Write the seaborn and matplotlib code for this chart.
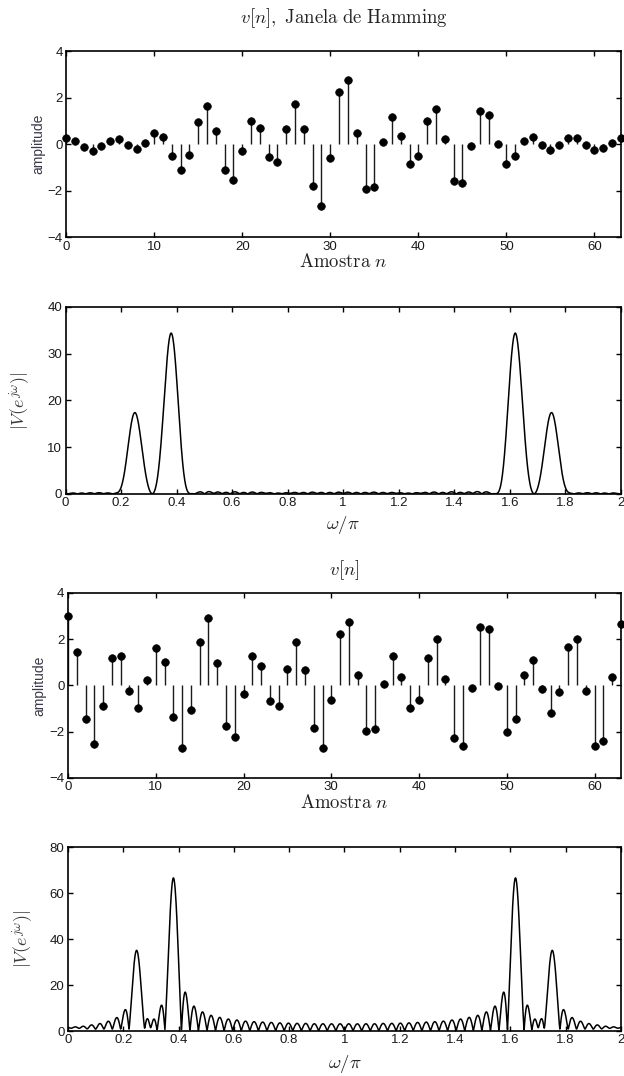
import numpy as np
import matplotlib
matplotlib.use("Agg")
import matplotlib.pyplot as plt
import seaborn as sns

# Samples, n = 0..63
n = np.arange(64)

# v[n] with Hamming window
v_hamming = [0.24, 0.11, -0.14, -0.29, -0.10, 0.14, 0.21, -0.04, -0.22, 0.06,
             0.47, 0.31, -0.52, -1.12, -0.49, 0.96, 1.63, 0.57, -1.13, -1.56,
             -0.29, 1.01, 0.68, -0.57, -0.76, 0.64, 1.73, 0.64, -1.82, -2.67,
             -0.62, 2.24, 2.76, 0.47, -1.92, -1.84, 0.07, 1.17, 0.33, -0.86,
             -0.52, 0.98, 1.51, 0.21, -1.57, -1.69, -0.07, 1.40, 1.24, -0.02,
             -0.84, -0.53, 0.14, 0.31, -0.03, -0.27, -0.04, 0.27, 0.27, -0.03,
             -0.27, -0.19, 0.04, 0.26]

# v[n] without window
v_plain = [3.00, 1.44, -1.47, -2.54, -0.89, 1.18, 1.27, -0.26, -0.98, 0.22,
           1.62, 1.00, -1.37, -2.70, -1.08, 1.88, 2.93, 0.97, -1.76, -2.25,
           -0.39, 1.28, 0.85, -0.66, -0.87, 0.71, 1.86, 0.65, -1.85, -2.71,
           -0.62, 2.24, 2.74, 0.46, -1.95, -1.90, 0.07, 1.26, 0.36, -0.98,
           -0.62, 1.20, 1.99, 0.26, -2.28, -2.61, -0.12, 2.53, 2.45, -0.03,
           -2.00, -1.44, 0.46, 1.11, -0.14, -1.20, -0.29, 1.66, 1.99, -0.22,
           -2.63, -2.41, 0.36, 2.67]

stem_yticks = [-4, -2, 0, 2, 4]
stem_xticks = [0, 10, 20, 30, 40, 50, 60]
freq_xticks = [0, 0.2, 0.4, 0.6, 0.8, 1, 1.2, 1.4, 1.6, 1.8, 2]
freq_xlabels = ["0", "0.2", "0.4", "0.6", "0.8", "1", "1.2", "1.4", "1.6", "1.8", "2"]

sns.set_theme(style="ticks")
plt.rcParams["font.family"] = ["Liberation Sans", "DejaVu Sans"]
plt.rcParams["mathtext.fontset"] = "cm"
plt.rcParams["axes.unicode_minus"] = True

TXT = "#222222"
NFFT = 2048


def spectrum(v):
    V = np.abs(np.fft.fft(np.asarray(v), NFFT))
    w = np.arange(NFFT) * 2.0 / NFFT
    return w, V


def style_axes(ax):
    for s in ax.spines.values():
        s.set_visible(True)
        s.set_color("black")
        s.set_linewidth(1.2)
    ax.tick_params(direction="in", length=3.5, width=1.0, top=True, right=True,
                   labelsize=9.5, pad=2.5, colors="black", labelcolor="#1a1a1a")


def stem_panel(ax, v, title, ylab_x, title_pad):
    ax.vlines(n, 0, v, color="#1a1a1a", linewidth=1.0)
    sns.scatterplot(x=n, y=v, ax=ax, color="black", s=30, edgecolor="black",
                    linewidth=0.5, zorder=3, clip_on=False)
    ax.set_xlim(0, 63)
    ax.set_ylim(-4, 4)
    ax.set_xticks(stem_xticks)
    ax.set_yticks(stem_yticks)
    ax.set_xlabel(r"$\mathrm{Amostra}\ n$", fontsize=13.5, color=TXT)
    ax.xaxis.set_label_coords(0.5, -0.085)
    ax.set_ylabel("amplitude", fontsize=10, color="#3a3a4a")
    ax.yaxis.set_label_coords(ylab_x, 0.5)
    ax.set_title(title, fontsize=13.5, color=TXT, pad=title_pad)
    style_axes(ax)


def freq_panel(ax, v, ymax, yticks, xlab_y):
    w, V = spectrum(v)
    sns.lineplot(x=w, y=V, ax=ax, color="black", linewidth=1.1)
    ax.set_xlim(0, 2)
    ax.set_ylim(0, ymax)
    ax.set_xticks(freq_xticks)
    ax.set_xticklabels(freq_xlabels)
    ax.set_yticks(yticks)
    ax.set_xlabel(r"$\omega/\pi$", fontsize=13.5, color=TXT)
    ax.xaxis.set_label_coords(0.5, xlab_y)
    ax.set_ylabel(r"$|V(e^{j\omega})|$", fontsize=13, color="#3a3a3a")
    ax.yaxis.set_label_coords(-0.058, 0.5)
    style_axes(ax)


fig = plt.figure(figsize=(6.24, 10.76), dpi=100)
ax1 = fig.add_axes([0.106, 0.7797, 0.889, 0.1729])
ax2 = fig.add_axes([0.105, 0.5409, 0.890, 0.1738])
ax3 = fig.add_axes([0.109, 0.2770, 0.886, 0.1719])
ax4 = fig.add_axes([0.109, 0.0418, 0.886, 0.1710])

stem_panel(ax1, v_hamming, r"$v[n]\mathrm{,\ Janela\ de\ Hamming}$", -0.038, 20)
freq_panel(ax2, v_hamming, 40, [0, 10, 20, 30, 40], -0.105)
stem_panel(ax3, v_plain, r"$v[n]$", -0.04, 13)
freq_panel(ax4, v_plain, 80, [0, 20, 40, 60, 80], -0.12)

fig.savefig("out.png", dpi=100, facecolor="white")
